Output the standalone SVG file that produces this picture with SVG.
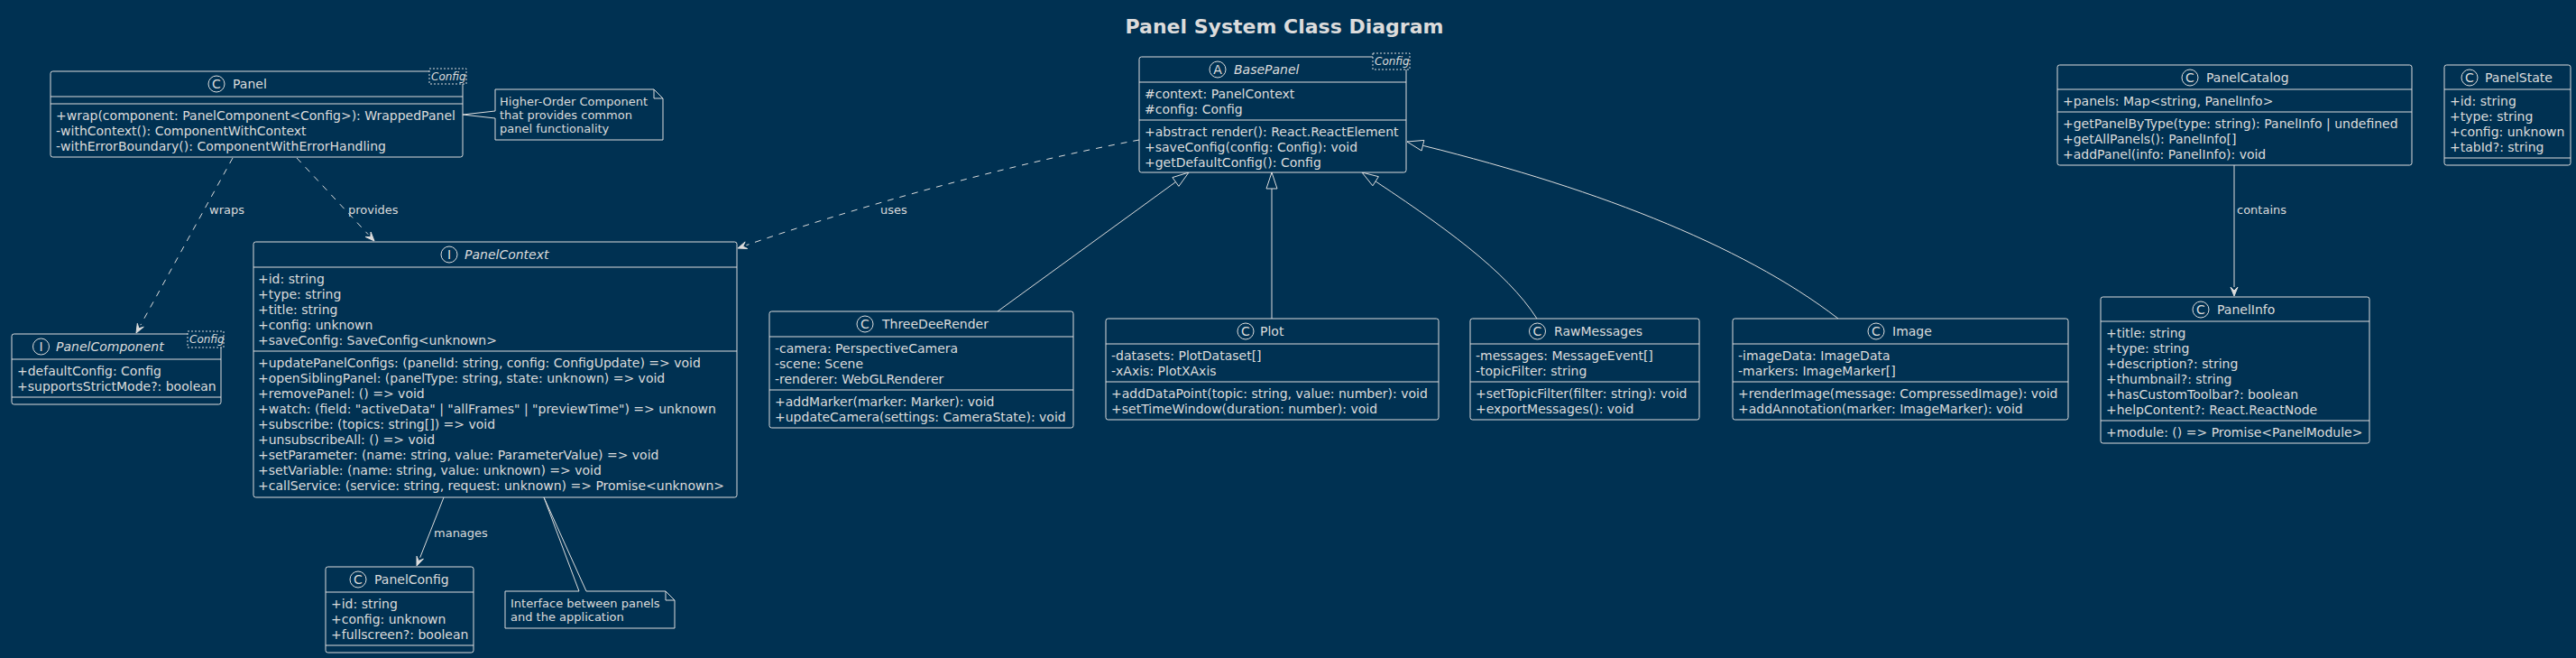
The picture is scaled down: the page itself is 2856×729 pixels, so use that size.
<svg xmlns="http://www.w3.org/2000/svg" width="2856" height="729" viewBox="0 0 2856 729">
<style>
text{font-family:"DejaVu Sans","Liberation Sans",sans-serif;fill:#dcdcdc}
.m{font-size:14px}
.t{font-size:14px}
.i{font-style:italic}
.lb{font-size:13px}
.nt{font-size:13px}
.g{font-size:12px;font-style:italic}
.ic{font-size:14px;text-anchor:middle}
.box{fill:#003152;stroke:#dcdcdc;stroke-width:1}
.ln{stroke:#dcdcdc;stroke-width:1}
.gen{fill:#003152;stroke:#dcdcdc;stroke-width:1;stroke-dasharray:2,2}
.cir{fill:none;stroke:#dcdcdc;stroke-width:1}
.dash{fill:none;stroke:#dcdcdc;stroke-width:1;stroke-dasharray:7,7}
.sol{fill:none;stroke:#dcdcdc;stroke-width:1}
.ah{fill:#dcdcdc;stroke:#dcdcdc;stroke-width:1}
.tri{fill:#003152;stroke:#dcdcdc;stroke-width:1}
.note{fill:#003152;stroke:#dcdcdc;stroke-width:1}
</style>
<rect x="0" y="0" width="2856" height="729" fill="#003152"/>
<text x="1424" y="37" font-size="22" font-weight="bold" text-anchor="middle">Panel System Class Diagram</text>

<g id="connectors">
  <path class="dash" d="M258,175 L155.8,360.2"/>
  <polygon class="ah" points="151,369 159.3,362.2 153.9,363.8 152.3,358.3"/>
  <text class="lb" x="232" y="237">wraps</text>
  <path class="dash" d="M329,175 L408.2,259.7"/>
  <polygon class="ah" points="415,267 405.2,262.4 410.9,262.6 411.1,257.0"/>
  <text class="lb" x="386" y="237">provides</text>
  <path class="dash" d="M1263,155 C1113,183 938,233 827.4,271.7"/>
  <polygon class="ah" points="818,275 826.1,267.9 823.7,273.0 828.7,275.5"/>
  <text class="lb" x="976" y="237">uses</text>
  <path class="sol" d="M492,551 L465.7,617.7"/>
  <polygon class="ah" points="462,627 469.4,619.2 464.2,621.4 462.0,616.2"/>
  <text class="lb" x="481" y="595">manages</text>
  <path class="sol" d="M2477,183 L2477,318"/>
  <polygon class="ah" points="2477,328 2481,318 2477,322 2473,318"/>
  <text class="lb" x="2480" y="237">contains</text>
  <path class="sol" d="M1106,345 L1318,191"/>
  <polygon class="tri" points="1318,191 1306.9,206.4 1299.9,196.6"/>
  <path class="sol" d="M1410,353 L1410,191"/>
  <polygon class="tri" points="1410,191 1416,209 1404,209"/>
  <path class="sol" d="M1704,353 C1670,300 1600,250 1510,191"/>
  <polygon class="tri" points="1510,191 1521.9,205.8 1528.4,195.7"/>
  <path class="sol" d="M2038,353 C1930,270 1760,205 1560,157"/>
  <polygon class="tri" points="1560,157 1576.1,167 1578.9,155.4"/>
</g>

<g id="Panel">
  <rect class="box" x="56" y="79" width="457" height="95" rx="2.5"/>
  <line class="ln" x1="56" y1="107" x2="513" y2="107"/>
  <line class="ln" x1="56" y1="115" x2="513" y2="115"/>
  <circle class="cir" cx="240" cy="93" r="9"/>
  <text class="ic" x="240" y="98">C</text>
  <text class="t" x="258" y="98">Panel</text>
  <rect class="gen" x="476" y="76" width="41" height="17"/>
  <text class="g" x="478" y="89">Config</text>
  <text class="m" x="62" y="133">+wrap(component: PanelComponent&lt;Config&gt;): WrappedPanel</text>
  <text class="m" x="62" y="150">-withContext(): ComponentWithContext</text>
  <text class="m" x="62" y="167">-withErrorBoundary(): ComponentWithErrorHandling</text>
</g>

<g id="note-panel">
  <path class="note" d="M549,99 L725,99 L735,109 L735,155 L549,155 L549,131 L513,127 L549,123 Z"/>
  <path class="sol" d="M725,99 L725,109 L735,109"/>
  <text class="nt" x="554" y="117">Higher-Order Component</text>
  <text class="nt" x="554" y="132.2">that provides common</text>
  <text class="nt" x="554" y="147.4">panel functionality</text>
</g>

<g id="PanelComponent">
  <rect class="box" x="13" y="370" width="232" height="78" rx="2.5"/>
  <line class="ln" x1="13" y1="398" x2="245" y2="398"/>
  <line class="ln" x1="13" y1="440" x2="245" y2="440"/>
  <circle class="cir" cx="45.5" cy="384" r="9"/>
  <text class="ic" x="45.5" y="389">I</text>
  <text class="t i" x="62" y="389">PanelComponent</text>
  <rect class="gen" x="208" y="367" width="40" height="18"/>
  <text class="g" x="210" y="380">Config</text>
  <text class="m" x="19" y="416">+defaultConfig: Config</text>
  <text class="m" x="19" y="433">+supportsStrictMode?: boolean</text>
</g>

<g id="PanelContext">
  <rect class="box" x="281" y="268" width="536" height="283" rx="2.5"/>
  <line class="ln" x1="281" y1="296" x2="817" y2="296"/>
  <line class="ln" x1="281" y1="389" x2="817" y2="389"/>
  <circle class="cir" cx="498" cy="282" r="9"/>
  <text class="ic" x="498" y="287">I</text>
  <text class="t i" x="515" y="287">PanelContext</text>
  <text class="m" x="286" y="314">+id: string</text>
  <text class="m" x="286" y="331">+type: string</text>
  <text class="m" x="286" y="348">+title: string</text>
  <text class="m" x="286" y="365">+config: unknown</text>
  <text class="m" x="286" y="382">+saveConfig: SaveConfig&lt;unknown&gt;</text>
  <text class="m" x="286" y="407">+updatePanelConfigs: (panelId: string, config: ConfigUpdate) =&gt; void</text>
  <text class="m" x="286" y="424">+openSiblingPanel: (panelType: string, state: unknown) =&gt; void</text>
  <text class="m" x="286" y="441">+removePanel: () =&gt; void</text>
  <text class="m" x="286" y="458">+watch: (field: "activeData" | "allFrames" | "previewTime") =&gt; unknown</text>
  <text class="m" x="286" y="475">+subscribe: (topics: string[]) =&gt; void</text>
  <text class="m" x="286" y="492">+unsubscribeAll: () =&gt; void</text>
  <text class="m" x="286" y="509">+setParameter: (name: string, value: ParameterValue) =&gt; void</text>
  <text class="m" x="286" y="526">+setVariable: (name: string, value: unknown) =&gt; void</text>
  <text class="m" x="286" y="543">+callService: (service: string, request: unknown) =&gt; Promise&lt;unknown&gt;</text>
</g>

<g id="PanelConfig">
  <rect class="box" x="361" y="628" width="164" height="95" rx="2.5"/>
  <line class="ln" x1="361" y1="656" x2="525" y2="656"/>
  <line class="ln" x1="361" y1="715" x2="525" y2="715"/>
  <circle class="cir" cx="397" cy="642" r="9"/>
  <text class="ic" x="397" y="647">C</text>
  <text class="t" x="415" y="647">PanelConfig</text>
  <text class="m" x="367" y="674">+id: string</text>
  <text class="m" x="367" y="691">+config: unknown</text>
  <text class="m" x="367" y="708">+fullscreen?: boolean</text>
</g>

<g id="note-context">
  <path class="note" d="M560,655 L642,655 L603,551 L650,655 L738,655 L748,665 L748,696 L560,696 Z"/>
  <path class="sol" d="M738,655 L738,665 L748,665"/>
  <text class="nt" x="566" y="672.5">Interface between panels</text>
  <text class="nt" x="566" y="688">and the application</text>
</g>

<g id="BasePanel">
  <rect class="box" x="1263" y="63" width="296" height="128" rx="2.5"/>
  <line class="ln" x1="1263" y1="91" x2="1559" y2="91"/>
  <line class="ln" x1="1263" y1="133" x2="1559" y2="133"/>
  <circle class="cir" cx="1350" cy="77" r="9"/>
  <text class="ic" x="1350" y="82">A</text>
  <text class="t i" x="1368" y="82">BasePanel</text>
  <rect class="gen" x="1522" y="59" width="41" height="18"/>
  <text class="g" x="1524" y="72">Config</text>
  <text class="m" x="1269" y="109">#context: PanelContext</text>
  <text class="m" x="1269" y="126">#config: Config</text>
  <text class="m" x="1269" y="151">+abstract render(): React.ReactElement</text>
  <text class="m" x="1269" y="168">+saveConfig(config: Config): void</text>
  <text class="m" x="1269" y="185">+getDefaultConfig(): Config</text>
</g>

<g id="ThreeDeeRender">
  <rect class="box" x="853" y="345" width="337" height="129" rx="2.5"/>
  <line class="ln" x1="853" y1="373" x2="1190" y2="373"/>
  <line class="ln" x1="853" y1="432" x2="1190" y2="432"/>
  <circle class="cir" cx="959" cy="359" r="9"/>
  <text class="ic" x="959" y="364">C</text>
  <text class="t" x="978" y="364">ThreeDeeRender</text>
  <text class="m" x="859" y="391">-camera: PerspectiveCamera</text>
  <text class="m" x="859" y="408">-scene: Scene</text>
  <text class="m" x="859" y="425">-renderer: WebGLRenderer</text>
  <text class="m" x="859" y="450">+addMarker(marker: Marker): void</text>
  <text class="m" x="859" y="467">+updateCamera(settings: CameraState): void</text>
</g>

<g id="Plot">
  <rect class="box" x="1226" y="353" width="369" height="112" rx="2.5"/>
  <line class="ln" x1="1226" y1="381" x2="1595" y2="381"/>
  <line class="ln" x1="1226" y1="423" x2="1595" y2="423"/>
  <circle class="cir" cx="1381" cy="367" r="9"/>
  <text class="ic" x="1381" y="372">C</text>
  <text class="t" x="1397" y="372">Plot</text>
  <text class="m" x="1232" y="399">-datasets: PlotDataset[]</text>
  <text class="m" x="1232" y="416">-xAxis: PlotXAxis</text>
  <text class="m" x="1232" y="441">+addDataPoint(topic: string, value: number): void</text>
  <text class="m" x="1232" y="458">+setTimeWindow(duration: number): void</text>
</g>

<g id="RawMessages">
  <rect class="box" x="1630" y="353" width="254" height="112" rx="2.5"/>
  <line class="ln" x1="1630" y1="381" x2="1884" y2="381"/>
  <line class="ln" x1="1630" y1="423" x2="1884" y2="423"/>
  <circle class="cir" cx="1704.5" cy="367" r="9"/>
  <text class="ic" x="1704.5" y="372">C</text>
  <text class="t" x="1723" y="372">RawMessages</text>
  <text class="m" x="1636" y="399">-messages: MessageEvent[]</text>
  <text class="m" x="1636" y="416">-topicFilter: string</text>
  <text class="m" x="1636" y="441">+setTopicFilter(filter: string): void</text>
  <text class="m" x="1636" y="458">+exportMessages(): void</text>
</g>

<g id="Image">
  <rect class="box" x="1921" y="353" width="372" height="112" rx="2.5"/>
  <line class="ln" x1="1921" y1="381" x2="2293" y2="381"/>
  <line class="ln" x1="1921" y1="423" x2="2293" y2="423"/>
  <circle class="cir" cx="2080" cy="367" r="9"/>
  <text class="ic" x="2080" y="372">C</text>
  <text class="t" x="2098" y="372">Image</text>
  <text class="m" x="1927" y="399">-imageData: ImageData</text>
  <text class="m" x="1927" y="416">-markers: ImageMarker[]</text>
  <text class="m" x="1927" y="441">+renderImage(message: CompressedImage): void</text>
  <text class="m" x="1927" y="458">+addAnnotation(marker: ImageMarker): void</text>
</g>

<g id="PanelCatalog">
  <rect class="box" x="2281" y="72" width="393" height="111" rx="2.5"/>
  <line class="ln" x1="2281" y1="99" x2="2674" y2="99"/>
  <line class="ln" x1="2281" y1="124" x2="2674" y2="124"/>
  <circle class="cir" cx="2428" cy="86" r="9"/>
  <text class="ic" x="2428" y="91">C</text>
  <text class="t" x="2446" y="91">PanelCatalog</text>
  <text class="m" x="2287" y="117">+panels: Map&lt;string, PanelInfo&gt;</text>
  <text class="m" x="2287" y="142">+getPanelByType(type: string): PanelInfo | undefined</text>
  <text class="m" x="2287" y="159">+getAllPanels(): PanelInfo[]</text>
  <text class="m" x="2287" y="176">+addPanel(info: PanelInfo): void</text>
</g>

<g id="PanelState">
  <rect class="box" x="2710" y="72" width="140" height="111" rx="2.5"/>
  <line class="ln" x1="2710" y1="99" x2="2850" y2="99"/>
  <line class="ln" x1="2710" y1="175" x2="2850" y2="175"/>
  <circle class="cir" cx="2738" cy="86" r="9"/>
  <text class="ic" x="2738" y="91">C</text>
  <text class="t" x="2755" y="91">PanelState</text>
  <text class="m" x="2716" y="117">+id: string</text>
  <text class="m" x="2716" y="134">+type: string</text>
  <text class="m" x="2716" y="151">+config: unknown</text>
  <text class="m" x="2716" y="168">+tabId?: string</text>
</g>

<g id="PanelInfo">
  <rect class="box" x="2329" y="329" width="298" height="162" rx="2.5"/>
  <line class="ln" x1="2329" y1="356" x2="2627" y2="356"/>
  <line class="ln" x1="2329" y1="466" x2="2627" y2="466"/>
  <circle class="cir" cx="2440" cy="343" r="9"/>
  <text class="ic" x="2440" y="348">C</text>
  <text class="t" x="2458" y="348">PanelInfo</text>
  <text class="m" x="2335" y="374">+title: string</text>
  <text class="m" x="2335" y="391">+type: string</text>
  <text class="m" x="2335" y="408">+description?: string</text>
  <text class="m" x="2335" y="425">+thumbnail?: string</text>
  <text class="m" x="2335" y="442">+hasCustomToolbar?: boolean</text>
  <text class="m" x="2335" y="459">+helpContent?: React.ReactNode</text>
  <text class="m" x="2335" y="484">+module: () =&gt; Promise&lt;PanelModule&gt;</text>
</g>
</svg>
